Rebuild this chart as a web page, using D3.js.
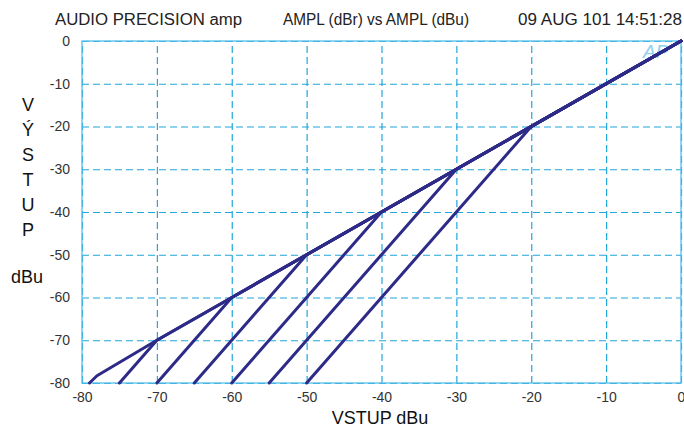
<!DOCTYPE html>
<html>
<head>
<meta charset="utf-8">
<script src="https://cdn.jsdelivr.net/npm/d3@7"></script>
<style>
  body { margin: 0; background: #fff; }
  svg { display: block; font-family: "Liberation Sans", Arial, sans-serif; }
</style>
</head>
<body>
<div id="chart"></div>
<script>
const xTicks = [-80, -70, -60, -50, -40, -30, -20, -10, 0];
const yTicks = [0, -10, -20, -30, -40, -50, -60, -70, -80];
const headerTexts = ["AUDIO PRECISION amp", "AMPL (dBr) vs AMPL (dBu)", "09 AUG 101 14:51:28"];

// traces: [input dBu, output dBu]
const trace0 = [[-79, -80], [-78, -78.3], [-70, -70], [-60, -60], [-50, -50], [-40, -40], [-30, -30], [-20, -20], [0, 0]];
const trace1 = [[-75, -80], [-70, -70], [0, 0]];
const trace2 = [[-70, -80], [-60, -60], [0, 0]];
const trace3 = [[-65, -80], [-50, -50], [0, 0]];
const trace4 = [[-60, -80], [-40, -40], [0, 0]];
const trace5 = [[-55, -80], [-30, -30], [0, 0]];
const trace6 = [[-50, -80], [-20, -20], [0, 0]];
const traces = [trace0, trace1, trace2, trace3, trace4, trace5, trace6];

const width = 684, height = 427;
const margin = { top: 41, right: 3, bottom: 44, left: 82 };

const svg = d3.select("#chart").append("svg")
  .attr("width", width).attr("height", height);

const x = d3.scaleLinear().domain([-80, 0]).range([margin.left, width - margin.right]);
const y = d3.scaleLinear().domain([-80, 0]).range([height - margin.bottom, margin.top]);

const gridColor = "#21a6dc";
const borderColor = "#55bde8";
const fmt = d => String(d); // plain hyphen minus like the original

// header
const header = svg.append("g").attr("fill", "#222").attr("font-size", 16);
header.append("text").attr("x", 55).attr("y", 25)
  .attr("textLength", 187).attr("lengthAdjust", "spacingAndGlyphs").text(headerTexts[0]);
header.append("text").attr("x", 283).attr("y", 25)
  .attr("textLength", 186).attr("lengthAdjust", "spacingAndGlyphs").text(headerTexts[1]);
header.append("text").attr("x", 518).attr("y", 25)
  .attr("textLength", 164).attr("lengthAdjust", "spacingAndGlyphs").text(headerTexts[2]);

// x axis + vertical grid
const xAxis = svg.append("g")
  .attr("transform", `translate(0,${y(-80)})`)
  .call(d3.axisBottom(x).tickValues(xTicks).tickSize(-(y(-80) - y(0))).tickPadding(9)
    .tickFormat(fmt));
xAxis.select(".domain").remove();
xAxis.selectAll("line").attr("stroke", gridColor).attr("stroke-width", 1.2).attr("stroke-dasharray", "7,4");
xAxis.selectAll("text").attr("fill", "#333").attr("font-size", 14);

// y axis + horizontal grid
const yAxis = svg.append("g")
  .attr("transform", `translate(${x(-80)},0)`)
  .call(d3.axisLeft(y).tickValues(yTicks).tickSize(-(x(0) - x(-80))).tickPadding(12)
    .tickFormat(fmt));
yAxis.select(".domain").remove();
yAxis.selectAll("line").attr("stroke", gridColor).attr("stroke-width", 1.2).attr("stroke-dasharray", "7,4");
yAxis.selectAll("text").attr("fill", "#333").attr("font-size", 14);

// plot border
svg.append("rect")
  .attr("x", x(-80)).attr("y", y(0))
  .attr("width", x(0) - x(-80)).attr("height", y(-80) - y(0))
  .attr("fill", "none").attr("stroke", borderColor).attr("stroke-width", 1.3);

// AP logo
svg.append("text")
  .attr("x", 643).attr("y", 58)
  .attr("font-size", 19).attr("font-style", "italic")
  .attr("fill", "#8fcff0").text("AP");

// traces
const line = d3.line().x(d => x(d[0])).y(d => y(d[1]));
svg.append("g").selectAll("path")
  .data(traces)
  .join("path")
  .attr("d", line)
  .attr("fill", "none")
  .attr("stroke", "#2d2a88")
  .attr("stroke-width", 3)
  .attr("stroke-linejoin", "round")
  .attr("stroke-linecap", "round");

// axis titles
svg.append("text")
  .attr("x", 380).attr("y", 424)
  .attr("text-anchor", "middle").attr("font-size", 18).attr("fill", "#111")
  .text("VSTUP dBu");

const yLetters = ["V", "Ý", "S", "T", "U", "P"];
svg.append("g").selectAll("text")
  .data(yLetters)
  .join("text")
  .attr("x", 28)
  .attr("y", (d, i) => 111 + i * 25)
  .attr("text-anchor", "middle").attr("font-size", 18).attr("fill", "#111")
  .text(d => d);
svg.append("text")
  .attr("x", 27).attr("y", 283)
  .attr("text-anchor", "middle").attr("font-size", 18).attr("fill", "#111")
  .text("dBu");
</script>
</body>
</html>
